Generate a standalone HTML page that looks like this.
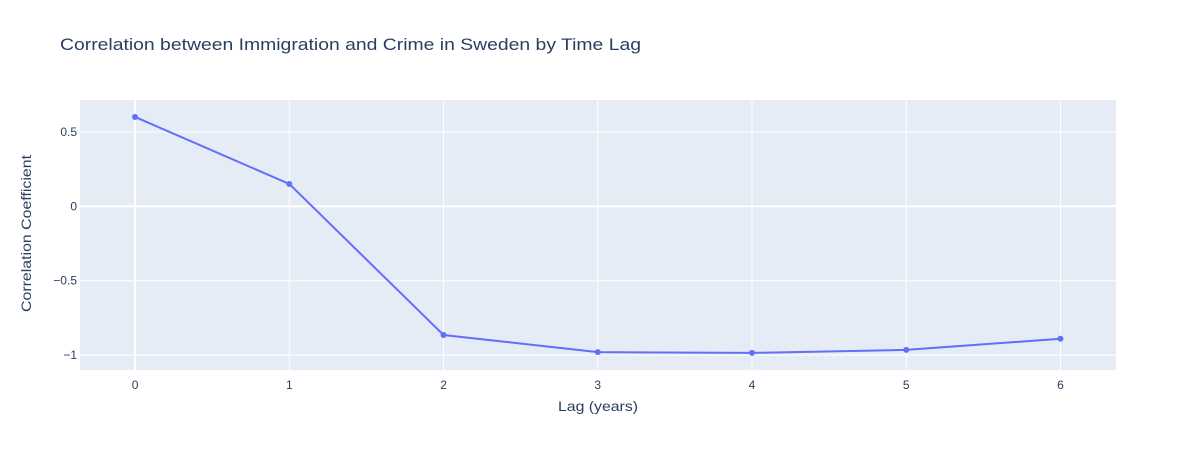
<!DOCTYPE html>
<html><head><meta charset="utf-8"><style>
body{margin:0;background:#fff;font-family:"Liberation Sans",Arial,sans-serif;}
</style></head><body>
<svg id="chart" width="1196" height="450" xmlns="http://www.w3.org/2000/svg">
<rect width="1196" height="450" fill="#fff"/>
<text x="60" y="50" font-size="17" fill="#2a3f5f" textLength="581" lengthAdjust="spacingAndGlyphs">Correlation between Immigration and Crime in Sweden by Time Lag</text>
<rect x="80" y="100" width="1036" height="270" fill="#e5ecf6"/>
<g id="grid"></g><g id="ticks"></g><g id="series"></g>
<text x="558" y="411" font-size="14" fill="#2a3f5f" textLength="80" lengthAdjust="spacingAndGlyphs">Lag (years)</text>
<text transform="translate(31,312) rotate(-90)" font-size="14" fill="#2a3f5f" textLength="157" lengthAdjust="spacingAndGlyphs">Correlation Coefficient</text>
</svg>
<script>
const lags = [0,1,2,3,4,5,6];
const corr = [0.60,0.15,-0.865,-0.98,-0.985,-0.965,-0.89];
const yTicks = [0.5,0,-0.5,-1];
const yTickLabels = ["0.5","0","−0.5","−1"];
const NS="http://www.w3.org/2000/svg";
const L=80,R=1116,T=100,B=370;
const xMin=-0.357,xMax=6.36,yMin=-1.1,yMax=0.714;
const X=v=>L+(v-xMin)/(xMax-xMin)*(R-L);
const Y=v=>B-(v-yMin)/(yMax-yMin)*(B-T);
function mk(tag,attrs,parent){const e=document.createElementNS(NS,tag);for(const k in attrs)e.setAttribute(k,attrs[k]);document.getElementById(parent).appendChild(e);return e;}
lags.forEach(v=>{
  const g=mk('line',{x1:X(v),x2:X(v),y1:T,y2:B,stroke:'#fff','stroke-width':v===0?2:1},'grid');
  
  
  const t=mk('text',{x:X(v),y:B+19,'font-size':12,fill:'#2a3f5f','text-anchor':'middle'},'ticks');
  t.textContent=v;
  
  
});
yTicks.forEach((v,i)=>{
  const g=mk('line',{x1:L,x2:R,y1:Y(v),y2:Y(v),stroke:'#fff','stroke-width':v===0?2:1},'grid');
  
  
  const t=mk('text',{x:L-3,y:Y(v)+4,'font-size':12,fill:'#2a3f5f','text-anchor':'end'},'ticks');
  t.textContent=yTickLabels[i];
  
  
});
const p=mk('polyline',{points:lags.map((v,i)=>X(v)+','+Y(corr[i])).join(' '),fill:'none',stroke:'#636efa','stroke-width':2},'series');


lags.forEach((v,i)=>{
  const c=mk('circle',{cx:X(v),cy:Y(corr[i]),r:3,fill:'#636efa'},'series');
  
  
});
</script>
</body></html>
